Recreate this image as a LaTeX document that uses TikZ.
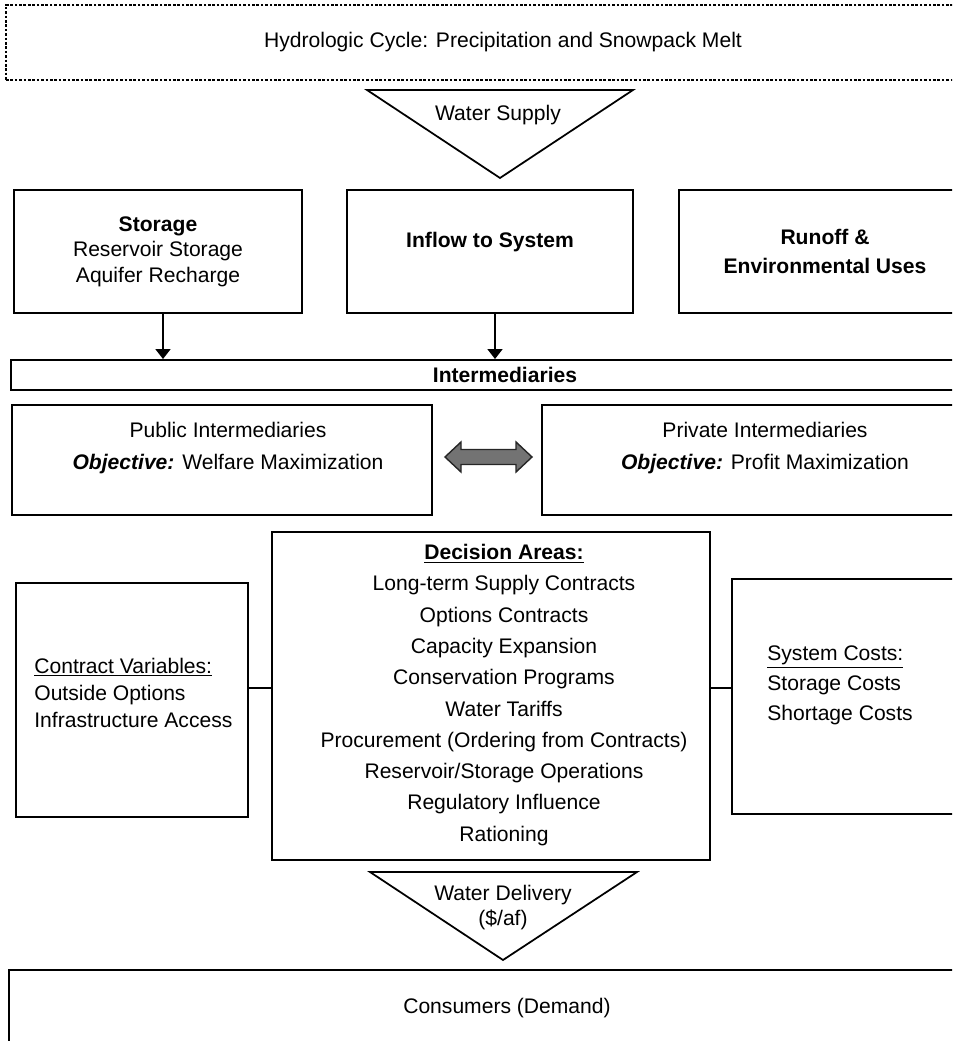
\documentclass[tikz,border=0pt]{standalone}
\usepackage{fontspec}
\setmainfont{Liberation Sans}
\usetikzlibrary{arrows.meta}
\begin{document}
\begin{tikzpicture}[
  every node/.style={font=\fontsize{12}{14.5}\selectfont, inner sep=0pt, align=center},
  box/.style={draw, line width=1.1pt},
  link/.style={line width=1pt},
  feed/.style={line width=1pt, -{Triangle[length=0.2cm,width=0.3cm]}},
  funnel/.style={line width=1pt, line join=miter},
]
\useasboundingbox (0,0) rectangle (19.04,-20.82);
\clip (0,0) rectangle (19.04,-20.82);
% supply side
\node[draw, line width=0.7pt, dash pattern=on 1.5pt off 1pt, minimum width=19.88cm, minimum height=1.5cm] (cycle) at (10.06,-0.85) {Hydrologic Cycle: Precipitation and Snowpack Melt};
\path (7.34,-1.8) coordinate (sA) (12.66,-1.8) coordinate (sB) (10,-3.56) coordinate (sC);
\draw[funnel] (sA) -- (sB) -- (sC) -- cycle;
\node (supply) at (9.96,-2.3) {Water Supply};
\node[box, minimum width=5.76cm, minimum height=2.46cm, font=\fontsize{12}{14.6}\selectfont] (store) at (3.16,-5.03) {\textbf{Storage}\\Reservoir Storage\\Aquifer Recharge};
\node[box, minimum width=5.72cm, minimum height=2.46cm] (inflow) at (9.8,-5.03) {};
\node (inflowtxt) at (9.8,-4.84) {\textbf{Inflow to System}};
\node[box, minimum width=5.84cm, minimum height=2.46cm, font=\fontsize{12}{17}\selectfont\bfseries] (runoff) at (16.5,-5.03) {Runoff \&\\Environmental Uses};
% intermediaries
\node[box, minimum width=19.76cm, minimum height=0.6cm] (mid) at (10.1,-7.5) {\textbf{Intermediaries}};
\draw[feed] ([xshift=0.1cm]store.south) -- ([xshift=0.1cm]store.south |- mid.north);
\draw[feed] ([xshift=0.1cm]inflow.south) -- ([xshift=0.1cm]inflow.south |- mid.north);
\node[box, minimum width=8.4cm, minimum height=2.2cm] (public) at (4.44,-9.2) {};
\node[font=\fontsize{12}{18}\selectfont] (publictxt) at (4.56,-8.96) {Public Intermediaries\\\textbf{\textit{Objective:}} Welfare Maximization};
\node[box, minimum width=8.92cm, minimum height=2.2cm] (private) at (15.3,-9.2) {};
\node[font=\fontsize{12}{18}\selectfont] (privatetxt) at (15.3,-8.96) {Private Intermediaries\\\textbf{\textit{Objective:}} Profit Maximization};
\path (9.78,-9.14) coordinate (swap);
\draw[line width=0.8pt, draw=black!85, fill=black!55] (swap) ++(-0.88,0) -- ++(0.32,0.3) -- ++(0,-0.15) -- ++(1.1,0) -- ++(0,0.15) -- ++(0.32,-0.3) -- ++(-0.32,-0.3) -- ++(0,0.15) -- ++(-1.1,0) -- ++(0,-0.15) -- cycle;
% decisions
\node[box, minimum width=8.76cm, minimum height=6.56cm] (dec) at (9.82,-13.92) {};
\node[font=\fontsize{12}{17.8}\selectfont] (dectxt) at (10.08,-13.9) {\underline{\textbf{Decision Areas:}}\\Long-term Supply Contracts\\Options Contracts\\Capacity Expansion\\Conservation Programs\\Water Tariffs\\Procurement (Ordering from Contracts)\\Reservoir/Storage Operations\\Regulatory Influence\\Rationing};
\node[box, minimum width=4.64cm, minimum height=4.68cm] (terms) at (2.64,-14) {};
\node[font=\fontsize{12}{15.6}\selectfont, align=left, anchor=west] (termstxt) at (0.68,-13.86) {\underline{Contract Variables:}\\Outside Options\\Infrastructure Access};
\node[box, minimum width=4.86cm, minimum height=4.7cm] (costs) at (17.07,-13.93) {};
\node[font=\fontsize{12}{17}\selectfont, align=left, anchor=west] (coststxt) at (15.34,-13.7) {\underline{System Costs:}\\Storage Costs\\Shortage Costs};
\coordinate (tie) at (0,-13.76);
\draw[link] (terms.east |- tie) -- (dec.west |- tie);
\draw[link] (dec.east |- tie) -- (costs.west |- tie);
% demand side
\path (7.4,-17.44) coordinate (dA) (12.74,-17.44) coordinate (dB) (10.06,-19.2) coordinate (dC);
\draw[funnel] (dA) -- (dB) -- (dC) -- cycle;
\node (delivery) at (10.06,-18.15) {Water Delivery\\(\$/af)};
\node[box, minimum width=19.92cm, minimum height=1.52cm] (users) at (10.14,-20.16) {Consumers (Demand)};
\end{tikzpicture}
\end{document}
